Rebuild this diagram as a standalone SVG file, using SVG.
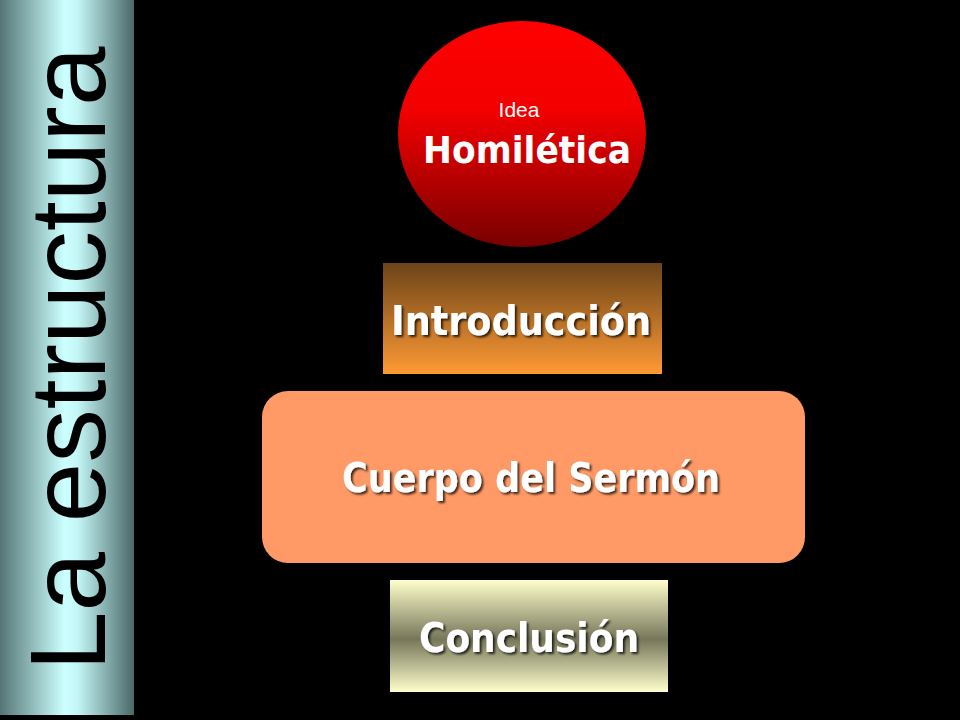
<svg xmlns="http://www.w3.org/2000/svg" width="960" height="720" viewBox="0 0 960 720">
  <defs>
    <linearGradient id="gBar" x1="0" y1="0" x2="1" y2="0">
      <stop offset="0" stop-color="#557575"/>
      <stop offset="0.48" stop-color="#ccffff"/>
      <stop offset="0.58" stop-color="#c4f6f6"/>
      <stop offset="1" stop-color="#4a6868"/>
    </linearGradient>
    <linearGradient id="gRed" x1="0" y1="0" x2="0" y2="1">
      <stop offset="0" stop-color="#ff0000"/>
      <stop offset="0.4" stop-color="#f20000"/>
      <stop offset="1" stop-color="#780000"/>
    </linearGradient>
    <linearGradient id="gIntro" x1="0" y1="0" x2="0" y2="1">
      <stop offset="0" stop-color="#6b4418"/>
      <stop offset="1" stop-color="#ff9a35"/>
    </linearGradient>
    <linearGradient id="gConc" x1="0" y1="0" x2="0" y2="1">
      <stop offset="0" stop-color="#ffffcc"/>
      <stop offset="0.53" stop-color="#76765a"/>
      <stop offset="1" stop-color="#ffffcc"/>
    </linearGradient>
    <filter id="shadow" x="-10%" y="-30%" width="120%" height="160%">
      <feDropShadow dx="2" dy="2" stdDeviation="1" flood-color="#000000" flood-opacity="0.75"/>
    </filter>
  </defs>
  <style>
    .lbl { font-family: "DejaVu Sans", Verdana, sans-serif; font-weight: bold; fill: #ffffff; text-anchor: middle; }
    .sh { filter: url(#shadow); }
  </style>
  <rect x="0" y="0" width="960" height="720" fill="#000000"/>

  <g id="title-bar">
    <rect x="0" y="0" width="134" height="715" fill="url(#gBar)"/>
    <text x="105" y="671" transform="rotate(-90 105 671)" font-family="'Liberation Sans', Arial, sans-serif" font-size="107" fill="#000000">La estructura</text>
  </g>

  <g id="connectors"></g>

  <g id="node-idea">
    <ellipse cx="522" cy="134" rx="124" ry="113" fill="url(#gRed)"/>
    <text x="519" y="117" font-family="'Liberation Sans', Arial, sans-serif" font-size="21" fill="#ffffff" text-anchor="middle">Idea</text>
    <text class="lbl" x="527" y="163" font-size="38" textLength="208" lengthAdjust="spacingAndGlyphs">Homilética</text>
  </g>

  <g id="node-introduccion">
    <rect x="383" y="263" width="279" height="111" fill="url(#gIntro)"/>
    <text class="lbl sh" x="521" y="335" font-size="40" textLength="260" lengthAdjust="spacingAndGlyphs">Introducción</text>
  </g>

  <g id="node-cuerpo">
    <rect x="262" y="391" width="543" height="172" rx="26" ry="26" fill="#ff9966"/>
    <text class="lbl sh" x="531" y="492" font-size="40" textLength="378" lengthAdjust="spacingAndGlyphs">Cuerpo del Sermón</text>
  </g>

  <g id="node-conclusion">
    <rect x="390" y="580" width="278" height="112" fill="url(#gConc)"/>
    <text class="lbl sh" x="529" y="652" font-size="40" textLength="220" lengthAdjust="spacingAndGlyphs">Conclusión</text>
  </g>
</svg>
